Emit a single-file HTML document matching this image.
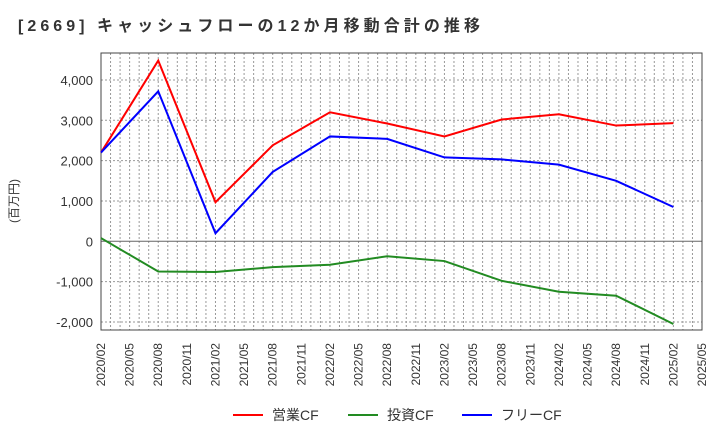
<!DOCTYPE html>
<html><head><meta charset="utf-8"><style>
body{margin:0;background:#fff;}
svg text{font-family:"Liberation Sans","Noto Sans CJK JP",sans-serif;}
</style></head><body>
<svg width="720" height="440" xmlns="http://www.w3.org/2000/svg">
<text x="18" y="31" font-size="16" font-weight="bold" fill="#333" textLength="462" lengthAdjust="spacing">[2669]  キャッシュフローの12か月移動合計の推移</text>
<text transform="translate(18,201) rotate(-90)" font-size="12" fill="#333" text-anchor="middle">(百万円)</text>
<g id="grid"></g><g id="axes"></g><g id="series"></g>
<g id="legend">
<line x1="233" y1="415" x2="263" y2="415" stroke="#f00" stroke-width="2"/>
<text x="272" y="420" font-size="14" fill="#333">営業CF</text>
<line x1="348" y1="415" x2="378" y2="415" stroke="#228b22" stroke-width="2"/>
<text x="387" y="420" font-size="14" fill="#333">投資CF</text>
<line x1="462" y1="415" x2="492" y2="415" stroke="#00f" stroke-width="2"/>
<text x="501" y="420" font-size="14" fill="#333">フリーCF</text>
</g>
</svg>
<script>
const months=[0,6,12,18,24,30,36,42,48,54,60];
const operatingCF=[2200,4480,970,2380,3200,2920,2600,3020,3150,2870,2930];
const investingCF=[80,-750,-760,-640,-580,-370,-490,-980,-1250,-1350,-2050];
const freeCF=[2200,3720,200,1720,2600,2540,2080,2030,1900,1500,850];
const yTicks=[-2000,-1000,0,1000,2000,3000,4000];
const xTickLabels=["2020/02","2020/05","2020/08","2020/11","2021/02","2021/05","2021/08","2021/11","2022/02","2022/05","2022/08","2022/11","2023/02","2023/05","2023/08","2023/11","2024/02","2024/05","2024/08","2024/11","2025/02","2025/05"];
const L=101,R=702,T=53,B=330,NS="http://www.w3.org/2000/svg";
const xs=m=>L+m*(R-L)/63;
const ys=v=>241.3-v*0.04033;
function mk(t,a,p){const e=document.createElementNS(NS,t);for(const k in a)e.setAttribute(k,a[k]);p.appendChild(e);return e;}
const grid=document.getElementById('grid'),axes=document.getElementById('axes'),ser=document.getElementById('series');
for(let m=1;m<63;m++){const l=mk('line',{x1:xs(m),x2:xs(m),y1:T,y2:B,stroke:'#999','stroke-dasharray':'2,2','stroke-width':1},grid);

}
yTicks.forEach(v=>{const y=ys(v);
const l=mk('line',{x1:L,x2:R,y1:y,y2:y,stroke:v===0?'#666':'#999','stroke-dasharray':v===0?'none':'2,2','stroke-width':1},grid);


const t=mk('text',{x:L-8,y:y+5,'text-anchor':'end','font-size':13,fill:'#333'},axes);
t.textContent=v.toLocaleString('en-US');

});
xTickLabels.forEach((s,i)=>{const x=xs(i*3);
const t=mk('text',{transform:`translate(${x+4},343) rotate(-90)`,'text-anchor':'end','font-size':12,fill:'#333'},axes);
t.textContent=s;

});
const fr=mk('rect',{x:L,y:T,width:R-L,height:B-T,fill:'none',stroke:'#444','stroke-width':1},axes);


[[operatingCF,'#f00','operating-cf-line'],[investingCF,'#228b22','investing-cf-line'],[freeCF,'#00f','free-cf-line']].forEach(([d,c,n])=>{
const p=mk('polyline',{points:d.map((v,i)=>xs(months[i])+','+ys(v)).join(' '),fill:'none',stroke:c,'stroke-width':2},ser);

});
</script>
</body></html>
